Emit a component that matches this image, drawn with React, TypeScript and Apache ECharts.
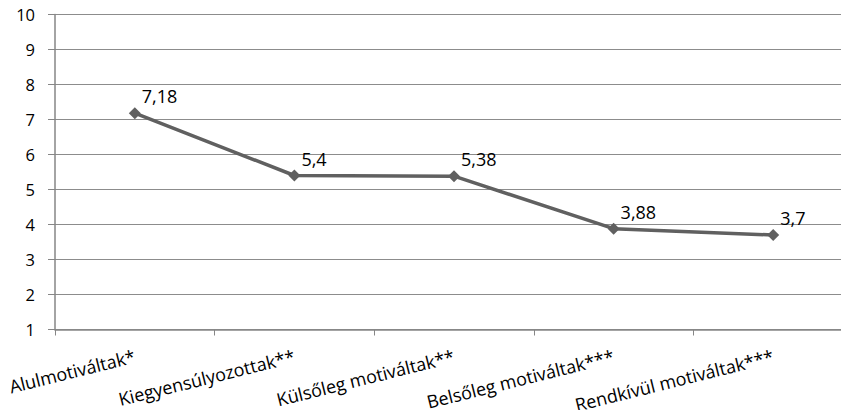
import React, { useEffect, useRef } from "react";
import * as echarts from "echarts";

const categories = [
  "Alulmotiváltak*",
  "Kiegyensúlyozottak**",
  "Külsőleg motiváltak**",
  "Belsőleg motiváltak***",
  "Rendkívül motiváltak***",
];
const values = [7.18, 5.4, 5.38, 3.88, 3.7];
const yMin = 1;
const yMax = 10;
const yStep = 1;

const FONT = "'Open Sans', 'Noto Sans', sans-serif";

export default function App() {
  const ref = useRef<HTMLDivElement>(null);

  useEffect(() => {
    if (!ref.current) return;
    const chart = echarts.init(ref.current, undefined, { renderer: "svg" });
    chart.setOption({
      animation: false,
      grid: {
        left: 55,
        top: 14.5,
        width: 798,
        height: 315,
        containLabel: false,
        outerBoundsMode: "none",
      },
      xAxis: {
        type: "category",
        data: categories,
        boundaryGap: true,
        axisLine: { lineStyle: { color: "#868686", width: 1.5 } },
        axisTick: { show: true, alignWithLabel: false, length: 6, lineStyle: { color: "#868686" } },
        axisLabel: {
          rotate: 14,
          interval: 0,
          margin: 26,
          color: "#000",
          fontSize: 18,
          fontFamily: FONT,
        },
        splitLine: { show: false },
      },
      yAxis: {
        type: "value",
        min: yMin,
        max: yMax,
        interval: yStep,
        axisLine: { show: true, lineStyle: { color: "#868686", width: 1.5 } },
        axisTick: { show: true, length: 7, lineStyle: { color: "#868686" } },
        axisLabel: {
          margin: 20,
          color: "#000",
          fontSize: 16.5,
          fontFamily: FONT,
        },
        splitLine: { show: true, lineStyle: { color: "#8c8c8c", width: 1 } },
      },
      series: [
        {
          type: "line",
          data: values,
          symbol: "diamond",
          symbolSize: 12,
          lineStyle: { color: "#606060", width: 3.5 },
          itemStyle: { color: "#606060" },
          label: {
            show: true,
            position: "right",
            distance: 1,
            offset: [0, -17],
            color: "#000",
            fontSize: 18,
            fontFamily: FONT,
            formatter: (p: any) => String(p.value).replace(".", ","),
          },
        },
      ],
    });
    return () => chart.dispose();
  }, []);

  return <div ref={ref} style={{ width: 849, height: 418, margin: -8 }} />;
}
